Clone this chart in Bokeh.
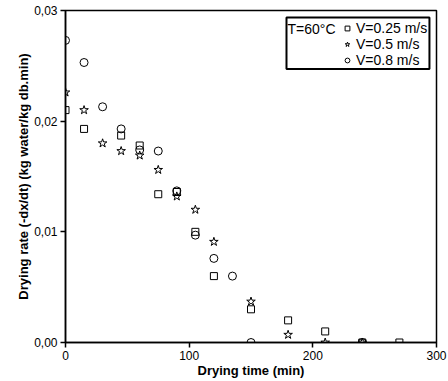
from bokeh.plotting import figure
from bokeh.models import Range1d, FixedTicker, Legend, LegendItem, Label
from bokeh.embed import file_html
from bokeh.resources import INLINE

# ---- data ----
t_025 = [0, 15, 45, 60, 75, 90, 105, 120, 150, 180, 210, 240, 270]
r_025 = [0.0210, 0.0193, 0.0187, 0.0178, 0.0134, 0.0136, 0.0100, 0.0060, 0.0030, 0.0020, 0.0010, 0.0000, 0.0000]

t_05 = [0, 15, 30, 45, 60, 75, 90, 105, 120, 150, 180, 210, 240]
r_05 = [0.0226, 0.0210, 0.0180, 0.0173, 0.0169, 0.0156, 0.0132, 0.0120, 0.0091, 0.0037, 0.0007, 0.0000, 0.0000]

t_08 = [0, 15, 30, 45, 60, 75, 90, 105, 120, 135, 150, 240]
r_08 = [0.0273, 0.0253, 0.0213, 0.0193, 0.0174, 0.0173, 0.0137, 0.0097, 0.0076, 0.0060, 0.0000, 0.0000]

series_labels = ["V=0.25 m/s", "V=0.5 m/s", "V=0.8 m/s"]
legend_title = "T=60°C"
x_ticks = [0, 100, 200, 300]
y_ticks = [0, 0.01, 0.02, 0.03]
y_tick_labels = ["0,00", "0,01", "0,02", "0,03"]
x_title = "Drying time (min)"
y_title = "Drying rate (-dx/dt) (kg water/kg db.min)"

FONT = "Liberation Sans"

p = figure(width=448, height=381, output_backend="svg", toolbar_location=None,
           x_range=Range1d(0, 300), y_range=Range1d(0, 0.03),
           min_border_left=65, min_border_right=12, min_border_top=10, min_border_bottom=39)

p.grid.visible = False
p.background_fill_color = "white"
p.border_fill_color = "white"
p.outline_line_color = "black"
p.outline_line_alpha = 1
p.outline_line_width = 1.5

r1 = p.scatter(t_025, r_025, marker="square", size=7, line_color="black", fill_color=None, line_width=1)
r2 = p.scatter(t_05, r_05, marker="star", size=9, line_color="black", fill_color=None, line_width=1)
r3 = p.scatter(t_08, r_08, marker="circle", size=8, line_color="black", fill_color=None, line_width=1)

for ax in (p.xaxis[0], p.yaxis[0]):
    ax.axis_line_width = 1.5
    ax.major_tick_line_width = 1.5
    ax.major_tick_out = 5
    ax.major_tick_in = 0
    ax.minor_tick_out = 0
    ax.minor_tick_in = 0
    ax.major_label_text_font = FONT
    ax.major_label_text_font_size = "12px"
    ax.major_label_text_color = "black"
    ax.axis_label_text_font = FONT
    ax.axis_label_text_font_size = "13px"
    ax.axis_label_text_font_style = "bold"
    ax.axis_label_text_color = "black"
    ax.major_label_standoff = 3
    ax.axis_label_standoff = 0

p.xaxis.ticker = FixedTicker(ticks=x_ticks)
p.yaxis.ticker = FixedTicker(ticks=y_ticks)
p.yaxis.major_label_overrides = {v: s for v, s in zip(y_ticks, y_tick_labels)}
p.xaxis.axis_label = x_title
p.yaxis.axis_label = y_title

legend = Legend(items=[LegendItem(label=l, renderers=[r]) for l, r in zip(series_labels, [r1, r2, r3])],
                location=(276, 274), padding=0, margin=0, spacing=0,
                glyph_width=12, glyph_height=16, label_height=16, label_standoff=3,
                label_text_font=FONT, label_text_font_size="14px", label_text_color="black",
                background_fill_alpha=0, border_line_alpha=0)
p.add_layout(legend)

# legend frame box
p.quad(left=[178.7], right=[294.3], top=[0.02937], bottom=[0.02471],
       fill_color=None, line_color="black", line_width=2)

p.add_layout(Label(x=179.5, y=0.02837, text=legend_title, text_font=FONT,
                   text_font_size="14px", text_baseline="middle", text_color="black"))

open("out.html", "w").write(file_html(p, INLINE))
